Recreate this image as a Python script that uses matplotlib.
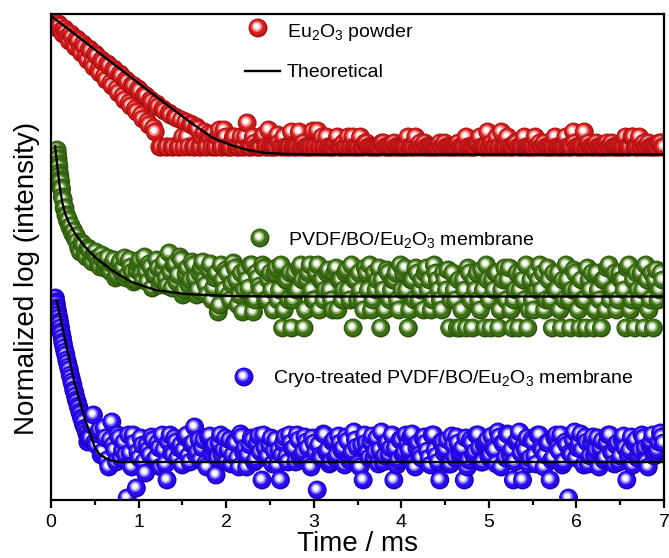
import numpy as np
import matplotlib
matplotlib.use('Agg')
import matplotlib.pyplot as plt

plt.rcParams['font.family'] = ['Liberation Sans', 'DejaVu Sans']
plt.rcParams['mathtext.default'] = 'regular'

# ---------------- data (y in arbitrary normalized-log units) ----------------
DT = 0.035  # sampling step of each sampled block, ms

# --- Eu2O3 powder: two interleaved sample blocks (t0 and t0 + DT/2)
red_t0 = 0.0
red_y = [480, 477, 472, 474, 466, 468, 459, 463, 453, 459,
         447, 453, 440, 449, 433, 444, 427, 438, 420, 434,
         414, 429, 407, 424, 400, 418, 394, 414, 388, 409,
         381, 404, 375, 398, 368, 393, 353, 389, 353, 385,
         353, 382, 353, 363, 378, 353, 375, 353, 371, 353,
         368, 353, 363, 366, 353, 370, 353, 363, 353, 353,
         363, 353, 363, 353, 377, 353, 363, 353, 353, 363,
         353, 370, 353, 353, 365, 353, 363, 353, 353, 353,
         353, 368, 353, 353, 353, 353, 353, 369, 353, 353,
         363, 353, 353, 357, 353, 353, 353, 363, 353, 353,
         353, 363, 353, 357, 353, 353, 353, 353, 357, 353,
         353, 353, 357, 353, 353, 353, 353, 353, 353, 363,
         353, 353, 357, 353, 353, 353, 353, 357, 353, 353,
         353, 353, 353, 357, 353, 353, 353, 353, 353, 357,
         363, 353, 353, 353, 357, 353, 353, 368, 353, 363,
         353, 353, 357, 353, 353, 353, 353, 353, 363, 353,
         353, 357, 353, 353, 353, 353, 353, 353, 363, 353,
         353, 357, 353, 353, 368, 353, 353, 353, 357, 353,
         353, 353, 353, 357, 353, 353, 353, 353, 353, 353,
         363, 353, 363, 353, 353, 357, 353, 353, 353, 357, 353]
red_t0b = 0.0175
red_yb = [479, 474, 476, 469, 471, 463, 466, 456, 461, 450,
          456, 444, 451, 437, 446, 430, 440, 424, 436, 417,
          431, 411, 426, 404, 420, 397, 415, 391, 411, 385,
          405, 378, 400, 372, 396, 353, 391, 353, 387, 353,
          383, 353, 380, 353, 363, 376, 353, 373, 353, 363,
          353, 366, 353, 353, 363, 353, 370,
          353, 353, 363, 353, 353, 353, 363, 353, 353, 357,
          353, 353, 365, 353, 353, 353, 353, 357, 353, 353,
          353, 368, 353, 353, 353, 357, 353, 353, 369, 353,
          353, 363, 353, 353, 353, 353, 363, 353, 357, 353,
          353, 363, 353, 353, 353, 357, 353, 353, 353, 353,
          353, 357, 353, 353, 353, 353, 353, 353, 353, 363,
          353, 353, 353, 357, 353, 353, 353, 353, 353, 353,
          353, 357, 353, 353, 353, 353, 353, 353, 363, 353,
          353, 353, 357, 353, 353, 368, 353, 353, 363, 353,
          353, 353, 353, 353, 357, 353, 353, 363, 353, 353,
          353, 353, 357, 353, 353, 353, 353, 363, 353, 353,
          353, 353, 353, 368, 353, 353, 353, 353, 357, 353,
          353, 353, 353, 353, 357, 353, 353, 353, 353, 353,
          363, 353, 363, 353, 353, 353, 357, 353, 353, 353,
          353, 357, 353]

# --- PVDF/BO/Eu2O3 membrane
green_early_t = [0.07, 0.075, 0.08, 0.085, 0.09, 0.095, 0.10, 0.105, 0.11, 0.115,
                 0.12, 0.13, 0.14, 0.15, 0.16, 0.17, 0.18, 0.19, 0.20, 0.215,
                 0.23, 0.245, 0.26, 0.275, 0.29]
green_early_y = [350, 345, 341, 336, 333, 327, 324, 320, 318, 312,
                 311, 303, 300, 292, 292, 285, 284, 279, 280, 273,
                 274, 267, 269, 262, 264]
green_t0 = 0.3
green_y = [258, 248, 255, 243, 250, 238, 248, 236, 245, 232,
           242, 228, 240, 225, 238, 232, 222, 240, 228, 220,
           236, 226, 243, 218, 233, 225, 240, 215, 230, 222,
           247, 212, 236, 225, 240, 210, 232, 220, 235, 205,
           227, 238, 215, 230, 200, 222, 188, 235, 210, 227,
           200, 237, 220, 205, 188, 230, 212, 235, 200, 222,
           210, 232, 200, 227, 190, 232, 210, 172, 220, 200,
           172, 227, 210, 235, 172, 220, 235, 200, 227, 190,
           220, 210, 230, 200, 227, 190, 220, 210, 230, 200,
           172, 220, 227, 200, 232, 210, 190, 227, 220, 172,
           210, 230, 200, 220, 227, 190, 210, 232, 172, 220,
           200, 227, 210, 190, 232, 220, 200, 227, 210, 190,
           220, 230, 200, 210, 172, 172, 220, 172, 227, 172,
           210, 200, 230, 172, 220, 172, 210, 227, 190, 220,
           200, 232, 172, 210, 172, 227, 200, 172, 220, 190,
           210, 235, 227, 200, 220, 172, 210, 227, 172, 200,
           220, 172, 230, 210, 172, 200, 172, 220, 227, 190,
           210, 172, 220, 232, 200, 210, 190, 227, 220, 172,
           235, 200, 172, 210, 227, 172, 220, 200, 172, 230,
           210, 220]
green_t0b = 0.3175
green_yb = [252, 257, 246, 252, 240, 246, 242, 233, 240, 236,
            230, 236, 222, 233, 228, 242, 225, 233, 218, 230,
            240, 220, 228, 236, 212, 226, 232, 220, 238, 214,
            228, 235, 218, 243, 205, 226, 215, 238, 222, 210,
            232, 220, 205, 236, 212, 227, 195, 220, 230, 205,
            216, 232, 195, 227, 210, 220, 235, 188, 227, 214,
            235, 200, 220, 210, 227, 200, 235, 190, 220, 227,
            200, 210, 232, 220, 190, 227, 210, 200, 235, 220,
            200, 227, 210, 190, 232, 220, 200, 227, 210, 235,
            220, 200, 210, 190, 227, 235, 200, 210, 232, 220,
            190, 227, 210, 220, 200, 235, 227, 210, 190, 220,
            232, 200, 220, 227, 210, 190, 235, 220, 200, 227,
            210, 172, 227, 200, 220, 190, 210, 232, 200, 220,
            227, 190, 210, 235, 200, 220, 227, 172, 210, 232,
            220, 190, 200, 227, 210, 220, 235, 190, 200, 227,
            220, 210, 190, 232, 200, 227, 210, 190, 220, 235,
            200, 210, 227, 190, 220, 200, 232, 210, 172, 227,
            200, 220, 190, 235, 210, 227, 200, 220, 210, 232,
            190, 220, 227, 200, 210, 235, 190, 227, 220, 200,
            227]

# --- Cryo-treated PVDF/BO/Eu2O3 membrane
blue_early_t = [0.05, 0.055, 0.06, 0.065, 0.07, 0.075, 0.08, 0.09, 0.095, 0.10,
                0.11, 0.115, 0.12, 0.13, 0.135, 0.14, 0.15, 0.16, 0.17, 0.18,
                0.19, 0.20, 0.21, 0.22, 0.23, 0.24, 0.25, 0.26, 0.27, 0.28,
                0.29, 0.30, 0.31, 0.32, 0.33, 0.34, 0.35, 0.36, 0.37, 0.38,
                0.39, 0.40, 0.41, 0.42, 0.425, 0.43, 0.44]
blue_early_y = [202, 198, 196, 192, 190, 188, 185, 182, 178, 176,
                172, 168, 166, 162, 158, 156, 152, 148, 145, 140,
                137, 133, 130, 125, 122, 118, 115, 110, 108, 104,
                100, 98, 94, 92, 88, 86, 82, 80, 76, 78,
                72, 70, 66, 58, 68, 62, 64]
blue_t0 = 0.45
blue_y = [62, 85, 55, 70, 48, 62, 33, 78, 50, 65,
          42, 58, 2, 47, 65, 12, 42, 55, 27, 50,
          63, 40, 57, 33, 50, 20, 65, 45, 58, 52,
          35, 63, 44, 56, 73, 48, 40, 60, 33, 64,
          52, 25, 57, 45, 62, 50, 36, 58, 42, 66,
          47, 33, 55, 60, 40, 64, 20, 52, 44, 62,
          49, 35, 20, 57, 43, 65, 51, 38, 60, 45,
          63, 52, 33, 57, 10, 44, 66, 48, 36, 58,
          42, 64, 50, 35, 59, 45, 68, 53, 33, 20,
          57, 42, 64, 48, 36, 68, 44, 58, 52, 20,
          35, 60, 45, 65, 50, 66, 33, 57, 42, 63,
          49, 35, 65, 44, 20, 58, 51, 36, 64, 42,
          57, 48, 20, 33, 60, 45, 65, 52, 38, 57,
          43, 64, 50, 68, 33, 57, 66, 45, 20, 58,
          68, 20, 50, 36, 60, 44, 65, 52, 33, 57,
          20, 42, 65, 49, 35, 58, 2, 45, 68, 52,
          66, 35, 58, 44, 63, 50, 33, 59, 42, 65,
          48, 36, 57, 44, 64, 20, 50, 35, 60, 45,
          65, 52, 33, 58, 44, 50, 67, 57]
blue_t0b = 0.4675
blue_yb = [75, 58, 66, 45, 72, 40, 60, 55, 38, 62,
           50, 45, 65, 33, 57, 48, 62, 38, 55, 45,
           60, 42, 52, 65, 36, 58, 47, 62, 42, 55,
           50, 65, 38, 57, 45, 60, 52, 36, 63, 47,
           55, 42, 65, 50, 38, 60, 45, 57, 33, 63,
           52, 45, 62, 38, 57, 48, 65, 42, 55, 36,
           60, 50, 45, 63, 38, 57, 52, 65, 42, 48,
           58, 36, 62, 47, 55, 42, 65, 50, 38, 60,
           45, 57, 52, 63, 40, 48, 60, 36, 55, 65,
           47, 58, 42, 62, 50, 38, 57, 45, 65, 52,
           40, 60, 48, 55, 63, 36, 52, 45, 62, 57,
           42, 65, 50, 38, 58, 47, 60, 36, 55, 63,
           45, 52, 62, 40, 57, 48, 65, 38, 55, 60,
           45, 52, 36, 63, 57, 42, 65, 50, 38, 60,
           47, 55, 62, 42, 58, 36, 65, 50, 45, 57,
           40, 62, 52, 65, 38, 55, 47, 60, 42, 57,
           50, 63, 36, 58, 45, 62, 52, 40, 57, 65,
           47, 55, 38, 60, 52, 45, 63, 57, 42, 50,
           62, 38, 55, 65, 47, 58, 63]

# theoretical curves
red_fit_t = [0.0, 0.3, 0.7, 1.1, 1.45, 1.65, 1.85, 2.05, 2.25, 2.45, 2.7, 3.0, 7.0]
red_fit_y = [484, 464, 437, 410, 387, 374, 362, 355, 350, 347, 346, 345.5, 345.5]
green_fit_t = [0.045, 0.07, 0.1, 0.13, 0.16, 0.2, 0.27, 0.39, 0.5, 0.69, 0.92, 1.19,
               1.53, 2.03, 2.5, 7.0]
green_fit_y = [355, 335, 313, 297, 287, 278, 267, 253, 243, 230, 218, 210,
               206, 204, 203.5, 203.5]
blue_fit_t = [0.065, 0.16, 0.27, 0.39, 0.5, 0.55, 0.62, 0.7, 0.8, 7.0]
blue_fit_y = [200, 160, 117, 80, 53, 46, 42, 39, 38, 38]

xticks = [0, 1, 2, 3, 4, 5, 6, 7]
labels = ['Eu$_2$O$_3$ powder', 'Theoretical',
          'PVDF/BO/Eu$_2$O$_3$ membrane',
          'Cryo-treated PVDF/BO/Eu$_2$O$_3$ membrane']

# ---------------- figure ----------------
W, H = 669, 558
AX_L, AX_B, AX_W, AX_H = 51, 58, 613, 486
fig = plt.figure(figsize=(W / 100, H / 100), dpi=100)
ax = fig.add_axes([AX_L / W, AX_B / H, AX_W / W, AX_H / H])
XMAX, YMAX = 7.0, 486.0
ax.set_xlim(0, XMAX)
ax.set_ylim(0, YMAX)

STYLES = {
    'red': ('#d41c1c', '#a00c10', '#ec7a78', '#fad2d2'),
    'green': ('#3d6f14', '#2a520a', '#86aa66', '#d8e8cc'),
    'blue': ('#2a0cf4', '#1800b8', '#8070fb', '#dcd8ff'),
}


def spheres(x, y, sx, sy, style, **kw):
    base, edge, mid, light = STYLES[style]
    layers = [(0.0, 0.0, 185, edge), (-0.4, 0.5, 146, base),
              (-1.1, 1.4, 62, mid), (-1.3, 1.6, 30, light), (-1.4, 1.7, 11, '#ffffff')]
    x = np.asarray(x, float)
    y = np.asarray(y, float)
    n, L = len(x), len(layers)
    xs = np.empty((n, L)); ys = np.empty((n, L)); ss = np.empty((n, L))
    for j, (dx, dy, s, c) in enumerate(layers):
        xs[:, j] = x + dx / sx
        ys[:, j] = y + dy / sy
        ss[:, j] = s
    cols = [layers[j][3] for i in range(n) for j in range(L)]
    return ax.scatter(xs.ravel(), ys.ravel(), s=ss.ravel(), c=cols,
                      linewidths=0, zorder=2, **kw)


def merge(blocks):
    t = np.concatenate([np.asarray(bt, float) for bt, _ in blocks])
    y = np.concatenate([np.asarray(by, float) for _, by in blocks])
    order = np.argsort(t, kind='stable')
    return t[order], y[order]


def grid(t0, vals):
    return t0 + DT * np.arange(len(vals))


sxd, syd = AX_W / XMAX, AX_H / YMAX

red_t, red_v = merge([(grid(red_t0, red_y), red_y), (grid(red_t0b, red_yb), red_yb)])
green_t, green_v = merge([(green_early_t, green_early_y),
                          (grid(green_t0, green_y), green_y),
                          (grid(green_t0b, green_yb), green_yb)])
blue_t, blue_v = merge([(blue_early_t, blue_early_y),
                        (grid(blue_t0, blue_y), blue_y),
                        (grid(blue_t0b, blue_yb), blue_yb)])

spheres(red_t, red_v, sxd, syd, 'red')
spheres(green_t, green_v, sxd, syd, 'green')
spheres(blue_t, blue_v, sxd, syd, 'blue')

for ft, fy in [(red_fit_t, red_fit_y), (green_fit_t, green_fit_y), (blue_fit_t, blue_fit_y)]:
    ax.plot(ft, fy, color='black', lw=1.7, zorder=3, solid_capstyle='butt')


# legend-like annotations (axes coordinates from pixel positions)
def axpos(px, py):
    return (px - AX_L) / AX_W, (500 - py) / AX_H


for (mx, my), style in [((258, 28), 'red'), ((260, 238), 'green'), ((244, 377), 'blue')]:
    x0, y0 = axpos(mx, my)
    spheres([x0], [y0], AX_W, AX_H, style, transform=ax.transAxes, clip_on=False)

lx0, ly = axpos(245, 71)
lx1, _ = axpos(280, 71)
ax.plot([lx0, lx1], [ly, ly], color='black', lw=1.7, transform=ax.transAxes)

for (tx, ty), lab in zip([(287, 37), (287, 77), (288, 245), (273, 383)], labels):
    x0, y0 = axpos(tx, ty)
    ax.text(x0, y0, lab, transform=ax.transAxes, fontsize=14, ha='left', va='baseline')

# axes styling
for sp in ax.spines.values():
    sp.set_linewidth(1.6)
    sp.set_zorder(4)
ax.set_yticks([])
ax.set_xticks(xticks)
ax.set_xticks(np.arange(0.5, 7, 1.0), minor=True)
ax.tick_params(axis='x', which='major', direction='out', length=6, width=1.6,
               labelsize=14, pad=4)
ax.tick_params(axis='x', which='minor', direction='out', length=3.5, width=1.6)
ax.set_xlabel('Time / ms', fontsize=20, labelpad=0)
ax.set_ylabel('Normalized log (intensity)', fontsize=20)
ax.yaxis.set_label_coords(-0.018, (500 - 278) / AX_H)

fig.savefig('out.png', dpi=100)
